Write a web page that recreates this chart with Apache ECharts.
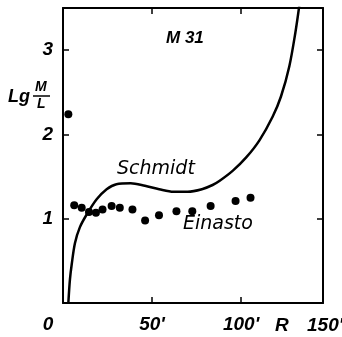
<!DOCTYPE html>
<html>
<head>
<meta charset="utf-8">
<script src="https://cdn.jsdelivr.net/npm/echarts@6/dist/echarts.min.js"></script>
<style>
html,body{margin:0;padding:0;background:#fff;}
#main{width:342px;height:337px;}
</style>
</head>
<body>
<div id="main"></div>
<script>
// Schmidt model curve, R in arcmin, lg(M/L)
var schmidtR = [3.0, 3.9, 4.9, 6.7, 9.5, 13.3, 18.9, 24.5, 30, 38, 46, 54, 62, 70, 78, 84, 88, 95.4, 103, 110.3, 117.7, 122.4, 127.1, 130.5, 132.7];
var schmidtV = [0, 0.28, 0.46, 0.71, 0.90, 1.05, 1.23, 1.35, 1.41, 1.42, 1.39, 1.35, 1.32, 1.32, 1.35, 1.40, 1.45, 1.57, 1.73, 1.93, 2.21, 2.45, 2.81, 3.21, 3.53];

// Einasto points
var einastoR = [3.0, 6.3, 10.5, 14.6, 18.5, 22.2, 27.3, 31.9, 39.0, 46.1, 53.9, 63.7, 72.6, 82.9, 96.9, 105.3];
var einastoV = [2.24, 1.16, 1.13, 1.08, 1.07, 1.11, 1.15, 1.13, 1.11, 0.98, 1.04, 1.09, 1.09, 1.15, 1.21, 1.25];

var xTicks = [0, 50, 100];
var yTicks = [1, 2, 3];

var fontNum = 'Liberation Sans';
var fontTxt = 'DejaVu Sans';

function pairs(xs, ys) {
    var out = [];
    for (var i = 0; i < xs.length; i++) {
        out.push([xs[i], ys[i]]);
    }
    return out;
}

var myChart = echarts.init(document.getElementById('main'));

var option = {
    backgroundColor: '#fff',
    animation: false,
    grid: { left: 63, right: 19, top: 8, bottom: 34 },
    xAxis: [
        {
            type: 'value', min: 0, max: 146, interval: 50,
            axisLine: { onZero: false, lineStyle: { color: '#000', width: 2 } },
            axisTick: { inside: true, length: 6, lineStyle: { color: '#000', width: 1.5 } },
            splitLine: { show: false },
            axisLabel: {
                margin: 12,
                formatter: function (v) {
                    if (xTicks.indexOf(v) < 0) return '';
                    if (v === 0) return '{z|0}';
                    return '{n|' + v + '\'}';
                },
                rich: {
                    z: { fontFamily: fontNum, fontStyle: 'italic', fontWeight: 'bold', fontSize: 19, color: '#000', padding: [0, 30, 0, 0] },
                    n: { fontFamily: fontNum, fontStyle: 'italic', fontWeight: 'bold', fontSize: 19, color: '#000' }
                }
            }
        },
        {
            type: 'value', min: 0, max: 146, interval: 50, position: 'top',
            axisLine: { show: true, onZero: false, lineStyle: { color: '#000', width: 2 } },
            axisTick: { inside: true, length: 6, lineStyle: { color: '#000', width: 1.5 } },
            axisLabel: { show: false },
            splitLine: { show: false }
        }
    ],
    yAxis: [
        {
            type: 'value', min: 0, max: 3.5, interval: 1,
            axisLine: { show: true, onZero: false, lineStyle: { color: '#000', width: 2 } },
            axisTick: { inside: true, length: 6, lineStyle: { color: '#000', width: 1.5 } },
            splitLine: { show: false },
            axisLabel: {
                margin: 10,
                fontFamily: fontNum, fontStyle: 'italic', fontWeight: 'bold', fontSize: 19, color: '#000',
                formatter: function (v) {
                    return yTicks.indexOf(v) < 0 ? '' : String(v);
                }
            }
        },
        {
            type: 'value', min: 0, max: 3.5, interval: 1, position: 'right',
            axisLine: { show: true, onZero: false, lineStyle: { color: '#000', width: 2 } },
            axisTick: { inside: true, length: 6, lineStyle: { color: '#000', width: 1.5 } },
            axisLabel: { show: false },
            splitLine: { show: false }
        }
    ],
    series: [
        {
            name: 'Schmidt',
            type: 'line',
            data: pairs(schmidtR, schmidtV),
            smooth: 0.3,
            showSymbol: false,
            clip: true,
            lineStyle: { color: '#000', width: 2.5 }
        },
        {
            name: 'Einasto',
            type: 'scatter',
            data: pairs(einastoR, einastoV),
            symbol: 'circle',
            symbolSize: 8,
            itemStyle: { color: '#000', opacity: 1 }
        }
    ],
    graphic: [
        { type: 'text', left: 166, top: 30, style: { text: 'M 31', font: 'italic bold 17px ' + fontNum, fill: '#000' } },
        { type: 'text', left: 117, top: 160, style: { text: 'Schmidt', font: 'italic 19px ' + fontTxt, fill: '#000' } },
        { type: 'text', left: 183, top: 215, style: { text: 'Einasto', font: 'italic 19px ' + fontTxt, fill: '#000' } },
        // y axis title: Lg M/L
        { type: 'text', left: 8, top: 88, style: { text: 'Lg', font: 'italic bold 18px ' + fontNum, fill: '#000' } },
        { type: 'text', left: 35, top: 80, style: { text: 'M', font: 'italic bold 14px ' + fontNum, fill: '#000' } },
        { type: 'line', shape: { x1: 33, y1: 96, x2: 50, y2: 96 }, style: { stroke: '#000', lineWidth: 1.5 } },
        { type: 'text', left: 37, top: 97, style: { text: 'L', font: 'italic bold 14px ' + fontNum, fill: '#000' } },
        // x axis extra labels
        { type: 'text', left: 275, top: 316, style: { text: 'R', font: 'italic bold 19px ' + fontNum, fill: '#000' } },
        { type: 'text', left: 307, top: 316, style: { text: '150\'', font: 'italic bold 19px ' + fontNum, fill: '#000' } }
    ]
};

myChart.setOption(option);
</script>
</body>
</html>
